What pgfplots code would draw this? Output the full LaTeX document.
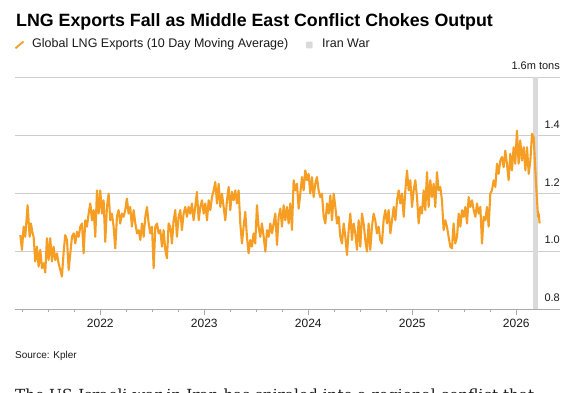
\documentclass[border=0pt]{standalone}
\usepackage{pgfplots}
\pgfplotsset{compat=1.18}
\usepackage{fontspec}
\setmainfont{Liberation Sans}
\newfontfamily\bodyserif{DejaVu Serif}
\definecolor{lng}{RGB}{245,158,35}
\definecolor{war}{RGB}{218,218,218}
\definecolor{gridc}{RGB}{205,205,205}
\definecolor{axc}{RGB}{170,170,170}
\definecolor{txt}{RGB}{25,25,25}
\pgfplotstableread{
x y
2021.231 1.056
2021.247 1.005
2021.263 1.085
2021.279 1.050
2021.301 1.159
2021.321 1.050
2021.333 1.096
2021.349 1.062
2021.359 1.050
2021.375 0.965
2021.391 1.016
2021.407 0.947
2021.423 1.005
2021.439 0.942
2021.455 0.959
2021.471 0.927
2021.487 1.045
2021.503 0.970
2021.519 1.045
2021.535 0.965
2021.551 1.016
2021.567 0.970
2021.583 0.993
2021.599 0.959
2021.615 0.936
2021.631 0.913
2021.647 0.993
2021.663 1.056
2021.680 1.039
2021.696 0.936
2021.712 0.993
2021.728 1.050
2021.744 1.062
2021.760 1.027
2021.776 1.067
2021.792 1.050
2021.808 1.085
2021.824 1.096
2021.840 0.993
2021.856 1.107
2021.872 1.085
2021.888 1.130
2021.904 1.165
2021.920 1.107
2021.936 1.142
2021.952 1.050
2021.968 1.210
2021.984 1.130
2022.000 1.210
2022.016 1.130
2022.032 1.176
2022.048 1.033
2022.064 1.153
2022.080 1.199
2022.096 1.107
2022.112 1.130
2022.128 1.085
2022.144 1.010
2022.160 1.119
2022.176 1.142
2022.192 1.096
2022.208 1.130
2022.224 1.119
2022.240 1.142
2022.256 1.182
2022.272 1.130
2022.288 1.153
2022.304 1.085
2022.321 1.142
2022.337 1.096
2022.353 1.062
2022.369 1.073
2022.385 1.039
2022.401 1.096
2022.417 1.050
2022.433 1.119
2022.449 1.153
2022.465 1.096
2022.481 1.062
2022.497 1.085
2022.513 0.942
2022.529 1.085
2022.545 1.096
2022.561 1.062
2022.577 1.073
2022.593 1.016
2022.609 1.073
2022.625 1.005
2022.641 0.976
2022.657 1.096
2022.673 1.085
2022.689 1.027
2022.705 1.107
2022.721 1.142
2022.737 1.050
2022.753 1.119
2022.769 1.142
2022.785 1.073
2022.801 1.130
2022.817 1.153
2022.833 1.119
2022.849 1.153
2022.865 1.130
2022.881 1.165
2022.897 1.107
2022.913 1.153
2022.929 1.205
2022.946 1.107
2022.962 1.153
2022.978 1.176
2022.994 1.130
2023.010 1.165
2023.026 1.107
2023.042 1.176
2023.058 1.142
2023.074 1.187
2023.090 1.210
2023.106 1.239
2023.122 1.165
2023.138 1.233
2023.154 1.153
2023.170 1.199
2023.186 1.153
2023.202 1.107
2023.218 1.176
2023.234 1.222
2023.250 1.142
2023.266 1.205
2023.282 1.176
2023.298 1.210
2023.314 1.165
2023.330 1.210
2023.346 1.096
2023.362 1.027
2023.378 1.085
2023.394 1.136
2023.410 1.050
2023.426 0.993
2023.442 1.039
2023.458 1.016
2023.474 1.062
2023.490 1.027
2023.506 1.159
2023.522 1.085
2023.538 1.050
2023.554 1.096
2023.571 1.050
2023.587 0.999
2023.603 1.073
2023.619 1.050
2023.635 1.096
2023.651 1.062
2023.667 1.096
2023.683 1.130
2023.699 1.022
2023.715 1.119
2023.731 1.147
2023.747 1.085
2023.763 1.159
2023.779 1.107
2023.795 1.153
2023.811 1.096
2023.827 1.165
2023.843 1.073
2023.859 1.245
2023.875 1.210
2023.891 1.233
2023.907 1.147
2023.923 1.199
2023.939 1.256
2023.955 1.210
2023.971 1.279
2023.987 1.245
2024.003 1.267
2024.019 1.199
2024.035 1.256
2024.051 1.187
2024.067 1.233
2024.083 1.256
2024.099 1.210
2024.115 1.187
2024.131 1.199
2024.148 1.119
2024.164 1.096
2024.180 1.165
2024.196 1.130
2024.212 1.193
2024.228 1.107
2024.244 1.199
2024.260 1.153
2024.276 1.096
2024.292 1.119
2024.308 1.050
2024.324 1.027
2024.340 1.096
2024.356 1.050
2024.372 0.987
2024.388 1.073
2024.404 1.130
2024.420 1.039
2024.436 1.096
2024.452 1.062
2024.468 1.005
2024.484 1.107
2024.500 1.016
2024.516 1.130
2024.532 1.096
2024.548 1.039
2024.564 0.999
2024.580 1.096
2024.596 1.005
2024.612 1.085
2024.628 1.130
2024.644 1.107
2024.660 1.062
2024.676 1.085
2024.692 1.039
2024.708 1.027
2024.724 1.107
2024.740 1.142
2024.756 1.096
2024.772 1.142
2024.789 1.062
2024.805 1.107
2024.821 1.153
2024.837 1.107
2024.853 1.176
2024.869 1.210
2024.885 1.165
2024.901 1.199
2024.917 1.119
2024.933 1.210
2024.949 1.279
2024.965 1.210
2024.981 1.245
2024.997 1.153
2025.013 1.210
2025.029 1.245
2025.045 1.187
2025.061 1.096
2025.077 1.153
2025.093 1.130
2025.109 1.210
2025.125 1.142
2025.141 1.273
2025.157 1.153
2025.173 1.245
2025.189 1.187
2025.205 1.233
2025.221 1.153
2025.237 1.273
2025.253 1.210
2025.269 1.222
2025.285 1.176
2025.301 1.073
2025.317 1.107
2025.333 1.085
2025.349 1.050
2025.365 1.016
2025.381 1.010
2025.397 1.096
2025.413 1.027
2025.430 1.050
2025.446 1.130
2025.462 1.085
2025.478 1.142
2025.494 1.119
2025.510 1.153
2025.526 1.096
2025.542 1.187
2025.558 1.153
2025.574 1.176
2025.590 1.142
2025.606 1.119
2025.622 1.165
2025.638 1.130
2025.654 1.153
2025.670 1.027
2025.686 1.119
2025.702 1.107
2025.718 1.153
2025.734 1.085
2025.750 1.199
2025.766 1.210
2025.782 1.245
2025.798 1.222
2025.814 1.302
2025.830 1.267
2025.846 1.313
2025.862 1.325
2025.878 1.290
2025.894 1.347
2025.910 1.302
2025.926 1.245
2025.942 1.336
2025.958 1.279
2025.974 1.359
2025.990 1.302
2026.006 1.416
2026.022 1.302
2026.038 1.382
2026.054 1.313
2026.071 1.359
2026.087 1.279
2026.103 1.359
2026.119 1.267
2026.135 1.313
2026.151 1.405
2026.167 1.393
2026.183 1.279
2026.199 1.176
2026.209 1.119
2026.215 1.130
2026.224 1.096
}\lngdata
\begin{document}
\begin{tikzpicture}[x=1pt,y=1pt]
\path[use as bounding box] (0pt,0pt) rectangle (584pt,-393pt);
\node[anchor=base west, inner sep=0, text=black, font=\fontsize{17.8}{20}\selectfont\bfseries] at (16pt,-26.7pt) {LNG Exports Fall as Middle East Conflict Chokes Output};
\draw[lng, line width=1.8pt] (15.5pt,-48.3pt) -- (23.5pt,-41.5pt);
\node[anchor=base west, inner sep=0, text=txt, font=\fontsize{12.5}{14}\selectfont] at (32pt,-47.7pt) {Global LNG Exports (10 Day Moving Average)};
\fill[war, rounded corners=0.8pt] (306pt,-41.7pt) rectangle (312.7pt,-48.3pt);
\node[anchor=base west, inner sep=0, text=txt, font=\fontsize{12.5}{14}\selectfont] at (322pt,-47.7pt) {Iran War};
\begin{axis}[
  at={(15pt,-309.3pt)}, anchor=south west,
  scale only axis, width=545pt, height=232pt,
  xmin=2021.18, xmax=2026.42, ymin=0.8, ymax=1.6,
  axis x line*=bottom, axis y line*=right,
  x axis line style={draw=axc, line width=0.8pt},
  y axis line style={draw=none},
  xtick={2022,2023,2024,2025,2026},
  xticklabels={2022,2023,2024,2025,2026},
  minor xtick={2021.25,2021.5,2021.75,2022.25,2022.5,2022.75,2023.25,2023.5,2023.75,2024.25,2024.5,2024.75,2025.25,2025.5,2025.75},
  tick align=outside,
  major tick length=6pt, minor tick length=3pt,
  x tick style={draw=axc, line width=0.8pt},
  xticklabel style={font=\fontsize{12}{14}\selectfont, text=txt},
  ytick={0.8,1.0,1.2,1.4,1.6},
  yticklabels={0.8,1.0,1.2,1.4,1.6m tons},
  y tick style={draw=none},
  ymajorgrids, grid style={draw=gridc, line width=0.8pt},
  yticklabel pos=right,
  yticklabel style={anchor=south east, inner sep=0pt, xshift=-6pt, yshift=7pt, font=\fontsize{11}{13}\selectfont, text=txt},
  clip=false,
]
\addplot[fill=war, draw=none] coordinates {(2026.163,0.8) (2026.163,1.6) (2026.21,1.6) (2026.21,0.8)} -- cycle;
\addplot[lng, line width=2.1pt, line join=round, mark=none] table[x=x, y=y] {\lngdata};
\end{axis}
\node[anchor=base west, inner sep=0, text=txt, font=\fontsize{10}{12}\selectfont] at (15pt,-358pt) {Source: Kpler};
\node[anchor=base west, inner sep=0, text=txt, font=\bodyserif\fontsize{15.3}{18}\selectfont] at (15pt,-400pt) {The US-Israeli war in Iran has spiraled into a regional conflict that};
\end{tikzpicture}
\end{document}
